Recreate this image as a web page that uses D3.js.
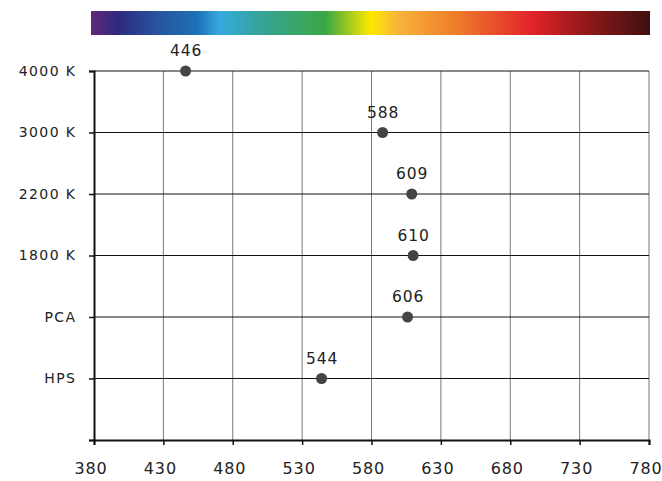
<!DOCTYPE html>
<html><head><meta charset="utf-8">
<script src="https://cdn.jsdelivr.net/npm/d3@7"></script>
<style>body{margin:0;background:#fff}svg{display:block}text{font-family:"DejaVu Sans",sans-serif;fill:#222}</style>
</head><body><svg id="c" width="662" height="481"></svg>
<script>
const categories = ["HPS","PCA","1800 K","2200 K","3000 K","4000 K"];
const peakValues = [544, 606, 610, 609, 588, 446];
const xTicks = [380,430,480,530,580,630,680,730,780];
const spectrumStops = [
  [0.00,"#5e2878"],[0.05,"#2f2a80"],[0.12,"#27559e"],[0.19,"#1d70b6"],[0.23,"#36aadf"],
  [0.30,"#36a39c"],[0.42,"#3aa843"],[0.50,"#ffe800"],[0.55,"#f8b33a"],[0.65,"#ef7e2b"],
  [0.79,"#e2232a"],[0.86,"#a51b1c"],[1.00,"#3e0f0f"]
];
const svg = d3.select("#c");
const m = {l:94, r:649, t:71, b:440};
const x = d3.scaleLinear().domain([380,780]).range([m.l,m.r]);
const y = d3.scalePoint().domain([""].concat(categories)).range([m.b,m.t]);

// color bar
const grad = svg.append("defs").append("linearGradient").attr("id","spec");
spectrumStops.forEach(s=>grad.append("stop").attr("offset",s[0]).attr("stop-color",s[1]));
svg.append("rect").attr("x",91).attr("y",11).attr("width",559).attr("height",24).attr("fill","url(#spec)");

// vertical grid
svg.append("g").selectAll("line").data(xTicks.slice(1)).join("line")
  .attr("x1",d=>x(d)).attr("x2",d=>x(d)).attr("y1",m.t).attr("y2",m.b)
  .attr("stroke","#777").attr("stroke-width",1);
// horizontal grid
svg.append("g").selectAll("line").data(categories).join("line")
  .attr("x1",m.l).attr("x2",m.r).attr("y1",d=>y(d)).attr("y2",d=>y(d))
  .attr("stroke","#111").attr("stroke-width",1);

// axes
const xa = svg.append("g").attr("transform",`translate(0,${m.b})`)
  .call(d3.axisBottom(x).tickValues(xTicks).tickSize(5).tickPadding(16).tickFormat(d3.format("d")));
const ya = svg.append("g").attr("transform",`translate(${m.l},0)`)
  .call(d3.axisLeft(y).tickValues(y.domain()).tickSize(5).tickPadding(14));
[xa,ya].forEach(a=>{
  a.select(".domain").attr("stroke","#111").attr("stroke-width",2);
  a.selectAll(".tick line").attr("stroke","#111").attr("stroke-width",1.5);
  a.selectAll("text").attr("fill","#222").style("font-family","'DejaVu Sans', sans-serif");
});
xa.selectAll("text").attr("font-size",16).attr("letter-spacing",0.9).attr("dy","0.82em").attr("dx",-3.5);
ya.selectAll("text").attr("font-size",14).attr("letter-spacing",1.4).attr("dx",1.4);

// points
const pts = categories.map((c,i)=>({c, v:peakValues[i]}));
svg.append("g").selectAll("circle").data(pts).join("circle")
  .attr("cx",d=>x(d.v)).attr("cy",d=>y(d.c)).attr("r",5.5).attr("fill","#444");
svg.append("g").selectAll("text").data(pts).join("text")
  .attr("x",d=>x(d.v)+0.5).attr("y",d=>y(d.c)-15).attr("text-anchor","middle")
  .attr("font-size",15.5).attr("letter-spacing",0.9).text(d=>d.v);
</script></body></html>
